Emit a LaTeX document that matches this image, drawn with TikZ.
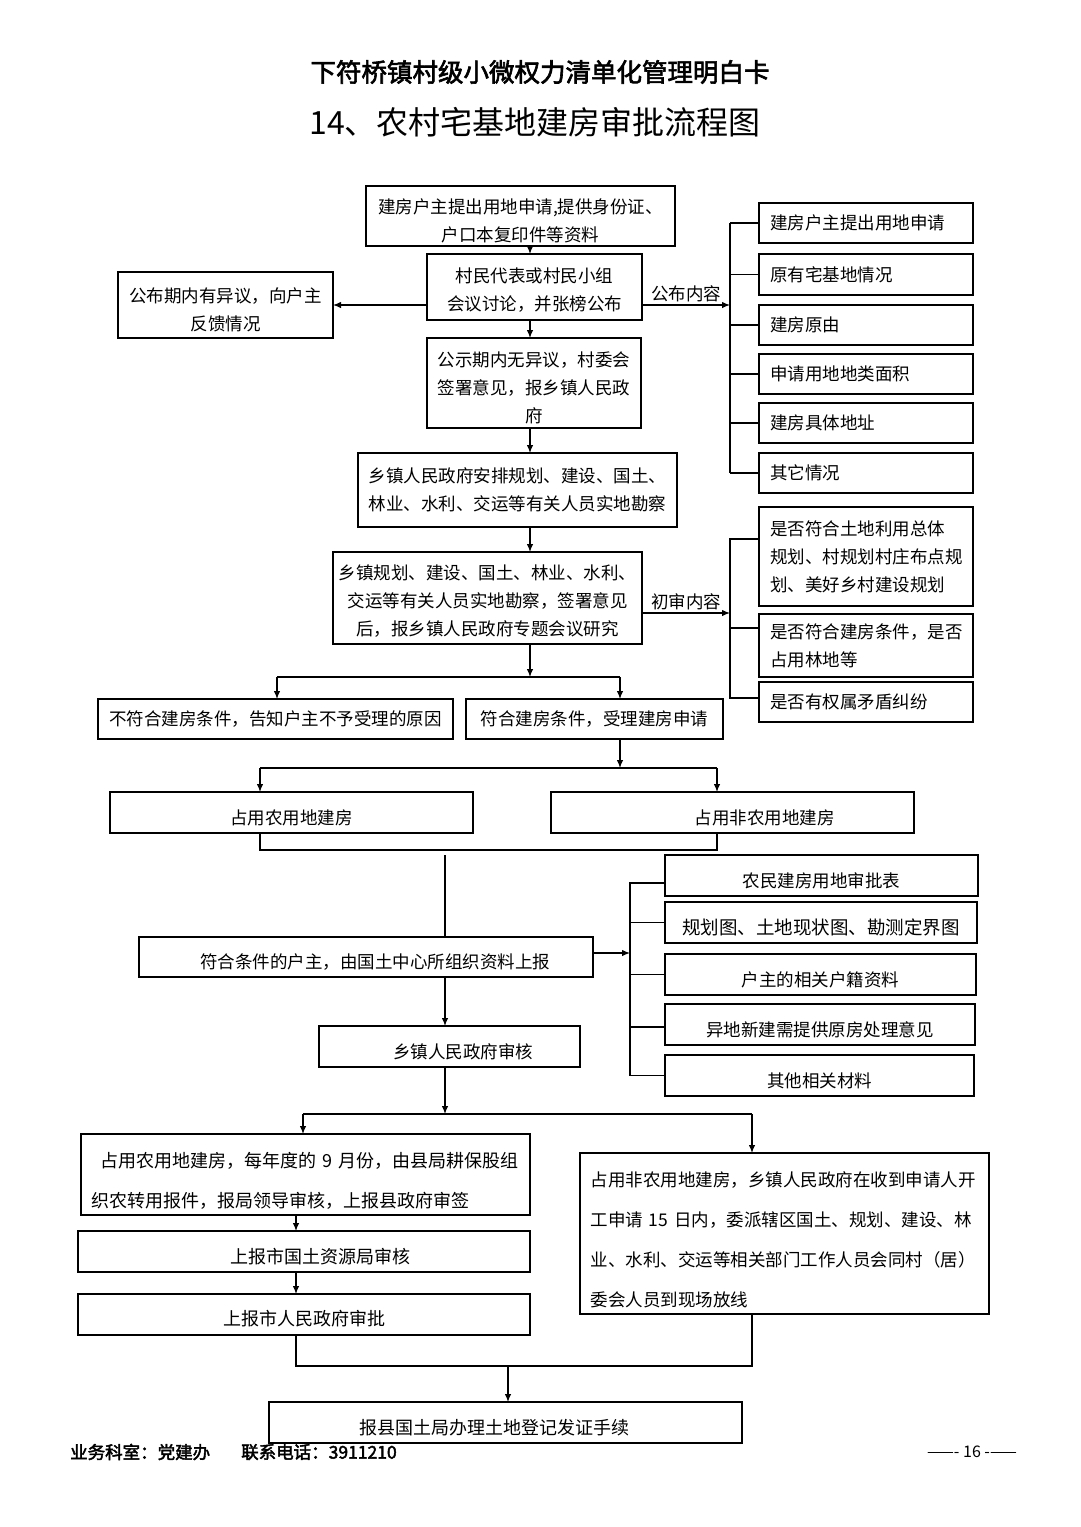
\documentclass[tikz,border=0pt]{standalone}
\usepackage{fontspec}
\setmainfont{Noto Sans CJK SC}
\newfontfamily\boldcjk[FakeBold=2.5]{Noto Sans CJK SC}
\usetikzlibrary{arrows.meta}
\newcommand\bxat[7][]{\node[bx,minimum width={#5-#3},minimum height={#6-#4},#1] (#2) at ({(#3+#5)/2},{(#4+#6)/2}) {#7};}
\newcommand\dn[1]{\rule{0pt}{#1pt}}
\tikzset{
  bx/.style={draw, line width=1.2pt, inner sep=0pt, outer sep=0pt, align=center, font=\fontsize{17.5}{28}\selectfont},
  lbox/.style={align=left, text width=192pt},
  arr/.style={-{Latex[length=8pt,width=6.5pt]}, line width=1.2pt},
  ln/.style={line width=1.2pt},
  lbl/.style={font=\fontsize{17.5}{20}\selectfont, inner sep=2pt}
}
\begin{document}
\begin{tikzpicture}[x=1pt,y=-1pt]
\useasboundingbox (0,0) rectangle (1080,1527);
\fill[white] (0,0) rectangle (1080,1527);
% titles
\node[font=\boldcjk\fontsize{25.5}{28}\selectfont] (t1) at (540,72) {下符桥镇村级小微权力清单化管理明白卡};
\node[font=\fontsize{32}{36}\selectfont] (t2) at (535,122) {14、农村宅基地建房审批流程图};
% main boxes
\bxat{A}{366}{186}{675}{246}{\dn{23.5}建房户主提出用地申请,提供身份证、\\户口本复印件等资料}
\bxat{B}{427}{254}{642}{320}{\dn{21.5}村民代表或村民小组\\会议讨论，并张榜公布}
\bxat{C}{118}{272}{333}{338}{\dn{23.5}公布期内有异议，向户主\\反馈情况}
\bxat{D}{427}{338}{641}{428}{\dn{24.5}公示期内无异议，村委会\\签署意见，报乡镇人民政\\府}
\bxat{E}{358}{453}{677}{527}{乡镇人民政府安排规划、建设、国土、\\林业、水利、交运等有关人员实地勘察}
\bxat{F}{333}{552}{642}{644}{\dn{21.5}乡镇规划、建设、国土、林业、水利、\\交运等有关人员实地勘察，签署意见\\后，报乡镇人民政府专题会议研究}
\bxat{G}{98}{699}{453}{739}{不符合建房条件，告知户主不予受理的原因}
\bxat{H}{466}{699}{723}{739}{符合建房条件，受理建房申请}
% list 1
\bxat[lbox]{R1}{759}{203}{973}{243}{建房户主提出用地申请}
\bxat[lbox]{R2}{759}{254}{973}{295}{原有宅基地情况}
\bxat[lbox]{R3}{759}{305}{973}{345}{建房原由}
\bxat[lbox]{R4}{759}{354}{973}{394}{申请用地地类面积}
\bxat[lbox]{R5}{759}{403}{973}{443}{建房具体地址}
\bxat[lbox]{R6}{759}{453}{973}{493}{其它情况}
% list 2
\bxat[lbox]{S1}{759}{507}{973}{606}{是否符合土地利用总体\\规划、村规划村庄布点规\\划、美好乡村建设规划}
\bxat[lbox]{S2}{759}{614}{973}{677}{是否符合建房条件，是否\\占用林地等}
\bxat[lbox]{S3}{759}{682}{973}{722}{是否有权属矛盾纠纷}
% middle
\bxat{I}{110}{792}{473}{833}{\dn{25.5}占用农用地建房}
\bxat{J}{551}{792}{914}{833}{\dn{25.5}\hspace*{64pt}占用非农用地建房}
\bxat{K}{139}{937}{593}{977}{\dn{25.5}\hspace*{18pt}符合条件的户主，由国土中心所组织资料上报}
\bxat{L}{319}{1026}{580}{1067}{\dn{25.5}\hspace*{27pt}乡镇人民政府审核}
% list 3
\bxat{T1}{665}{855}{978}{896}{\dn{25.5}农民建房用地审批表}
\bxat[font=\fontsize{18.5}{28}\selectfont]{T2}{665}{902}{977}{943}{\dn{26}规划图、土地现状图、勘测定界图}
\bxat{T3}{665}{954}{976}{995}{\dn{25.5}户主的相关户籍资料}
\bxat{T4}{665}{1004}{975}{1045}{\dn{25.5}异地新建需提供原房处理意见}
\bxat{T5}{665}{1055}{974}{1096}{\dn{25.5}其他相关材料}
% bottom
\bxat[align=left, text width=428pt, font=\fontsize{18}{40}\selectfont]{M}{81}{1134}{530}{1215}{\dn{28}\hspace*{9pt}占用农用地建房，每年度的~9~月份，由县局耕保股组\\织农转用报件，报局领导审核，上报县政府审签}
\bxat[align=left, text width=388pt, font=\fontsize{17.5}{40}\selectfont]{N}{580}{1153}{989}{1314}{\dn{27.5}占用非农用地建房，乡镇人民政府在收到申请人开\\工申请~15~日内，委派辖区国土、规划、建设、林\\业、水利、交运等相关部门工作人员会同村（居）\\委会人员到现场放线}
\bxat[font=\fontsize{18}{28}\selectfont]{O}{78}{1231}{530}{1272}{\dn{26}\hspace*{33pt}上报市国土资源局审核}
\bxat[font=\fontsize{18}{28}\selectfont]{P}{78}{1294}{530}{1335}{\dn{24}上报市人民政府审批}
\bxat[font=\fontsize{18}{28}\selectfont]{Q}{269}{1402}{742}{1443}{\dn{26}报县国土局办理土地登记发证手续\hspace*{23pt}}
% coordinates
\coordinate (v1) at (530,0);
\coordinate (b1) at (730,305);
\coordinate (b2) at (730,613);
\coordinate (j1) at (530,677);
\coordinate (j1l) at (277,677);
\coordinate (j1r) at (620,677);
\coordinate (j3) at (620,768);
\coordinate (j3l) at (260,768);
\coordinate (j3r) at (717,768);
\coordinate (j4l) at (260,850);
\coordinate (j4r) at (717,850);
\coordinate (m2) at (445,855);
\coordinate (b3) at (630,953);
\coordinate (j5) at (445,1114);
\coordinate (j5l) at (303,1114);
\coordinate (j5r) at (752,1114);
\coordinate (v2) at (296,0);
\coordinate (j6l) at (296,1366);
\coordinate (j6r) at (752,1366);
\coordinate (j6) at (508,1366);
% top chain
\draw[arr] (A.south -| v1) -- (B.north -| v1);
\draw[arr] (B.south -| v1) -- (D.north -| v1);
\draw[arr] (D.south -| v1) -- (E.north -| v1);
\draw[arr] (E.south -| v1) -- (F.north -| v1);
\draw[arr] (B.west |- b1) -- (C.east);
\draw[arr] (B.east |- b1) -- node[lbl, above] (lb1) {公布内容} (b1);
\draw[ln] (R1.west -| b1) -- (R6.west -| b1);
\foreach \n in {R1,R2,R3,R4,R5,R6} \draw[ln] (\n.west) -- (\n.west -| b1);
% list 2
\draw[arr] (F.east |- b2) -- node[lbl, above] (lb2) {初审内容} (b2);
\draw[ln] ([yshift=17.5pt]S1.west) -- ([yshift=17.5pt]S1.west -| b2) -- ([yshift=4pt]S3.west -| b2) -- ([yshift=4pt]S3.west);
\draw[ln] ([yshift=17.5pt]S2.west) -- ([yshift=17.5pt]S2.west -| b2);
% split 1
\draw[arr] (F.south -| j1) -- (j1);
\draw[ln] (j1l) -- (j1r);
\draw[arr] (j1l) -- (G.north -| j1l);
\draw[arr] (j1r) -- (H.north -| j1r);
% split 2
\draw[arr] (H.south -| j3) -- (j3);
\draw[ln] (j3l) -- (j3r);
\draw[arr] (j3l) -- (I.north -| j3l);
\draw[arr] (j3r) -- (J.north -| j3r);
% merge
\draw[ln] (I.south -| j4l) -- (j4l) -- (j4r) -- (J.south -| j4r);
\draw[ln] (m2) -- (K.north -| m2);
% list 3
\draw[arr] (K.east |- b3) -- (b3);
\draw[ln] ([yshift=-7.5pt]T1.west) -- ([yshift=-7.5pt]T1.west -| b3) -- (T5.west -| b3) -- (T5.west);
\draw[ln] (T2.west) -- (T2.west -| b3);
\draw[ln] (T3.west) -- (T3.west -| b3);
\draw[ln] ([yshift=-2.5pt]T4.west) -- ([yshift=-2.5pt]T4.west -| b3);
% K to L and split 3
\draw[arr] (K.south -| m2) -- (L.north -| m2);
\draw[arr] (L.south -| j5) -- (j5);
\draw[ln] (j5l) -- (j5r);
\draw[arr] (j5l) -- (M.north -| j5l);
\draw[arr] (j5r) -- (N.north -| j5r);
\draw[arr] (M.south -| v2) -- (O.north -| v2);
\draw[arr] (O.south -| v2) -- (P.north -| v2);
% final merge
\draw[ln] (P.south -| j6l) -- (j6l) -- (j6r) -- (N.south -| j6r);
\draw[arr] (j6) -- (Q.north -| j6);
% footer
\node[anchor=west, font=\boldcjk\fontsize{17.5}{20}\selectfont, inner sep=0pt] (f1) at (70,1452) {业务科室：党建办};
\node[anchor=west, font=\boldcjk\fontsize{17.5}{20}\selectfont, inner sep=0pt] (f2) at (241,1452) {联系电话：3911210};
\node[font=\fontsize{16}{20}\selectfont, inner sep=0pt] (f3) at (972,1452) {——- 16 -——};
\end{tikzpicture}
\end{document}
